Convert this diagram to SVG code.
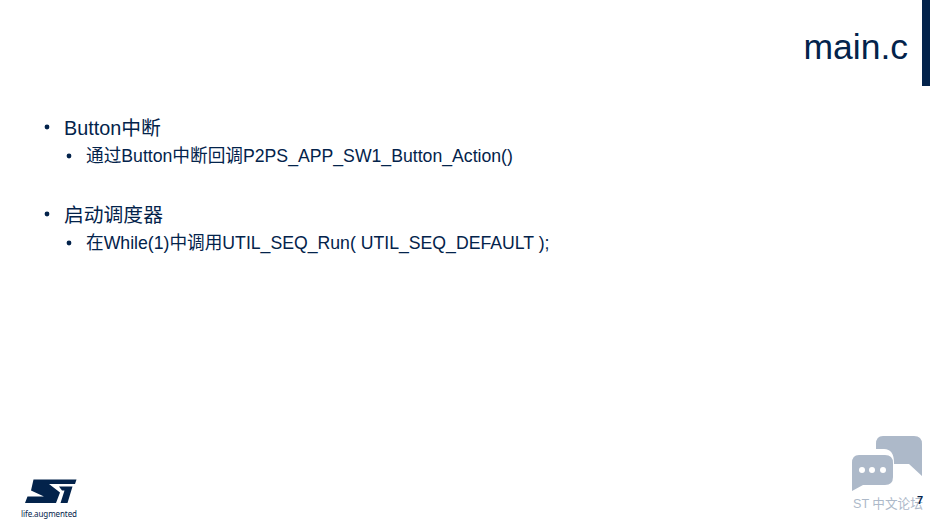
<svg xmlns="http://www.w3.org/2000/svg" width="930" height="519" viewBox="0 0 930 519">
<style>
text{font-family:"Liberation Sans","Noto Sans CJK SC",sans-serif;fill:#03234b}
.l1{font-size:19.8px}
.l2{font-size:17.67px}
.logo{fill:#03234b}
.tag{font-family:"Noto Sans",sans-serif;font-size:8px;fill:#03234b}
.chat{fill:#adb9c9}
.dot{fill:#03234b}
</style>
<rect width="930" height="519" fill="#fff"/>
<rect x="922" y="0" width="8" height="86" fill="#03234b"/>
<text x="908" y="59" text-anchor="end" font-size="35.5">main.c</text>
<g id="bullets">
<circle class="dot" cx="47" cy="127" r="2.4"/>
<text class="l1" x="64" y="134.5">Button中断</text>
<circle class="dot" cx="69" cy="156" r="2.4"/>
<text class="l2" x="86" y="162">通过Button中断回调P2PS_APP_SW1_Button_Action()</text>
<circle class="dot" cx="47" cy="214" r="2.4"/>
<text class="l1" x="64" y="221.5">启动调度器</text>
<circle class="dot" cx="69" cy="243" r="2.4"/>
<text class="l2" x="86" y="249">在While(1)中调用UTIL_SEQ_Run( UTIL_SEQ_DEFAULT );</text>
</g>
<g id="st-logo">
<path class="logo" d="M33.5 479.5H76.5L75 484H49L60 492.5L56 503H25L27.5 496.5H44L31 490.5Z"/>
<path class="logo" d="M59 486.5H72.5L67.5 503H60.5L64.5 490.5H62Z"/>
<text class="tag" x="21" y="517" textLength="56">life.augmented</text>
</g>
<g id="chat-badge">
<path class="chat" d="M883 436H914Q922 436 922 444V476L909 464H894V463Q894 449 884 449H876V444Q876 436 883 436Z"/>
<path class="chat" d="M859 455H885Q893 455 893 463V477Q893 485 885 485H863L852 491V463Q852 455 859 455Z"/>
<circle cx="862" cy="470" r="3" fill="#fff"/><circle cx="872" cy="470" r="3" fill="#fff"/><circle cx="883" cy="470" r="3" fill="#fff"/>
<text x="853" y="508" font-size="12.6" style="fill:#adb9c9">ST 中文论坛</text>
</g>
<text x="917" y="504" font-size="11" font-weight="bold">7</text>
</svg>
